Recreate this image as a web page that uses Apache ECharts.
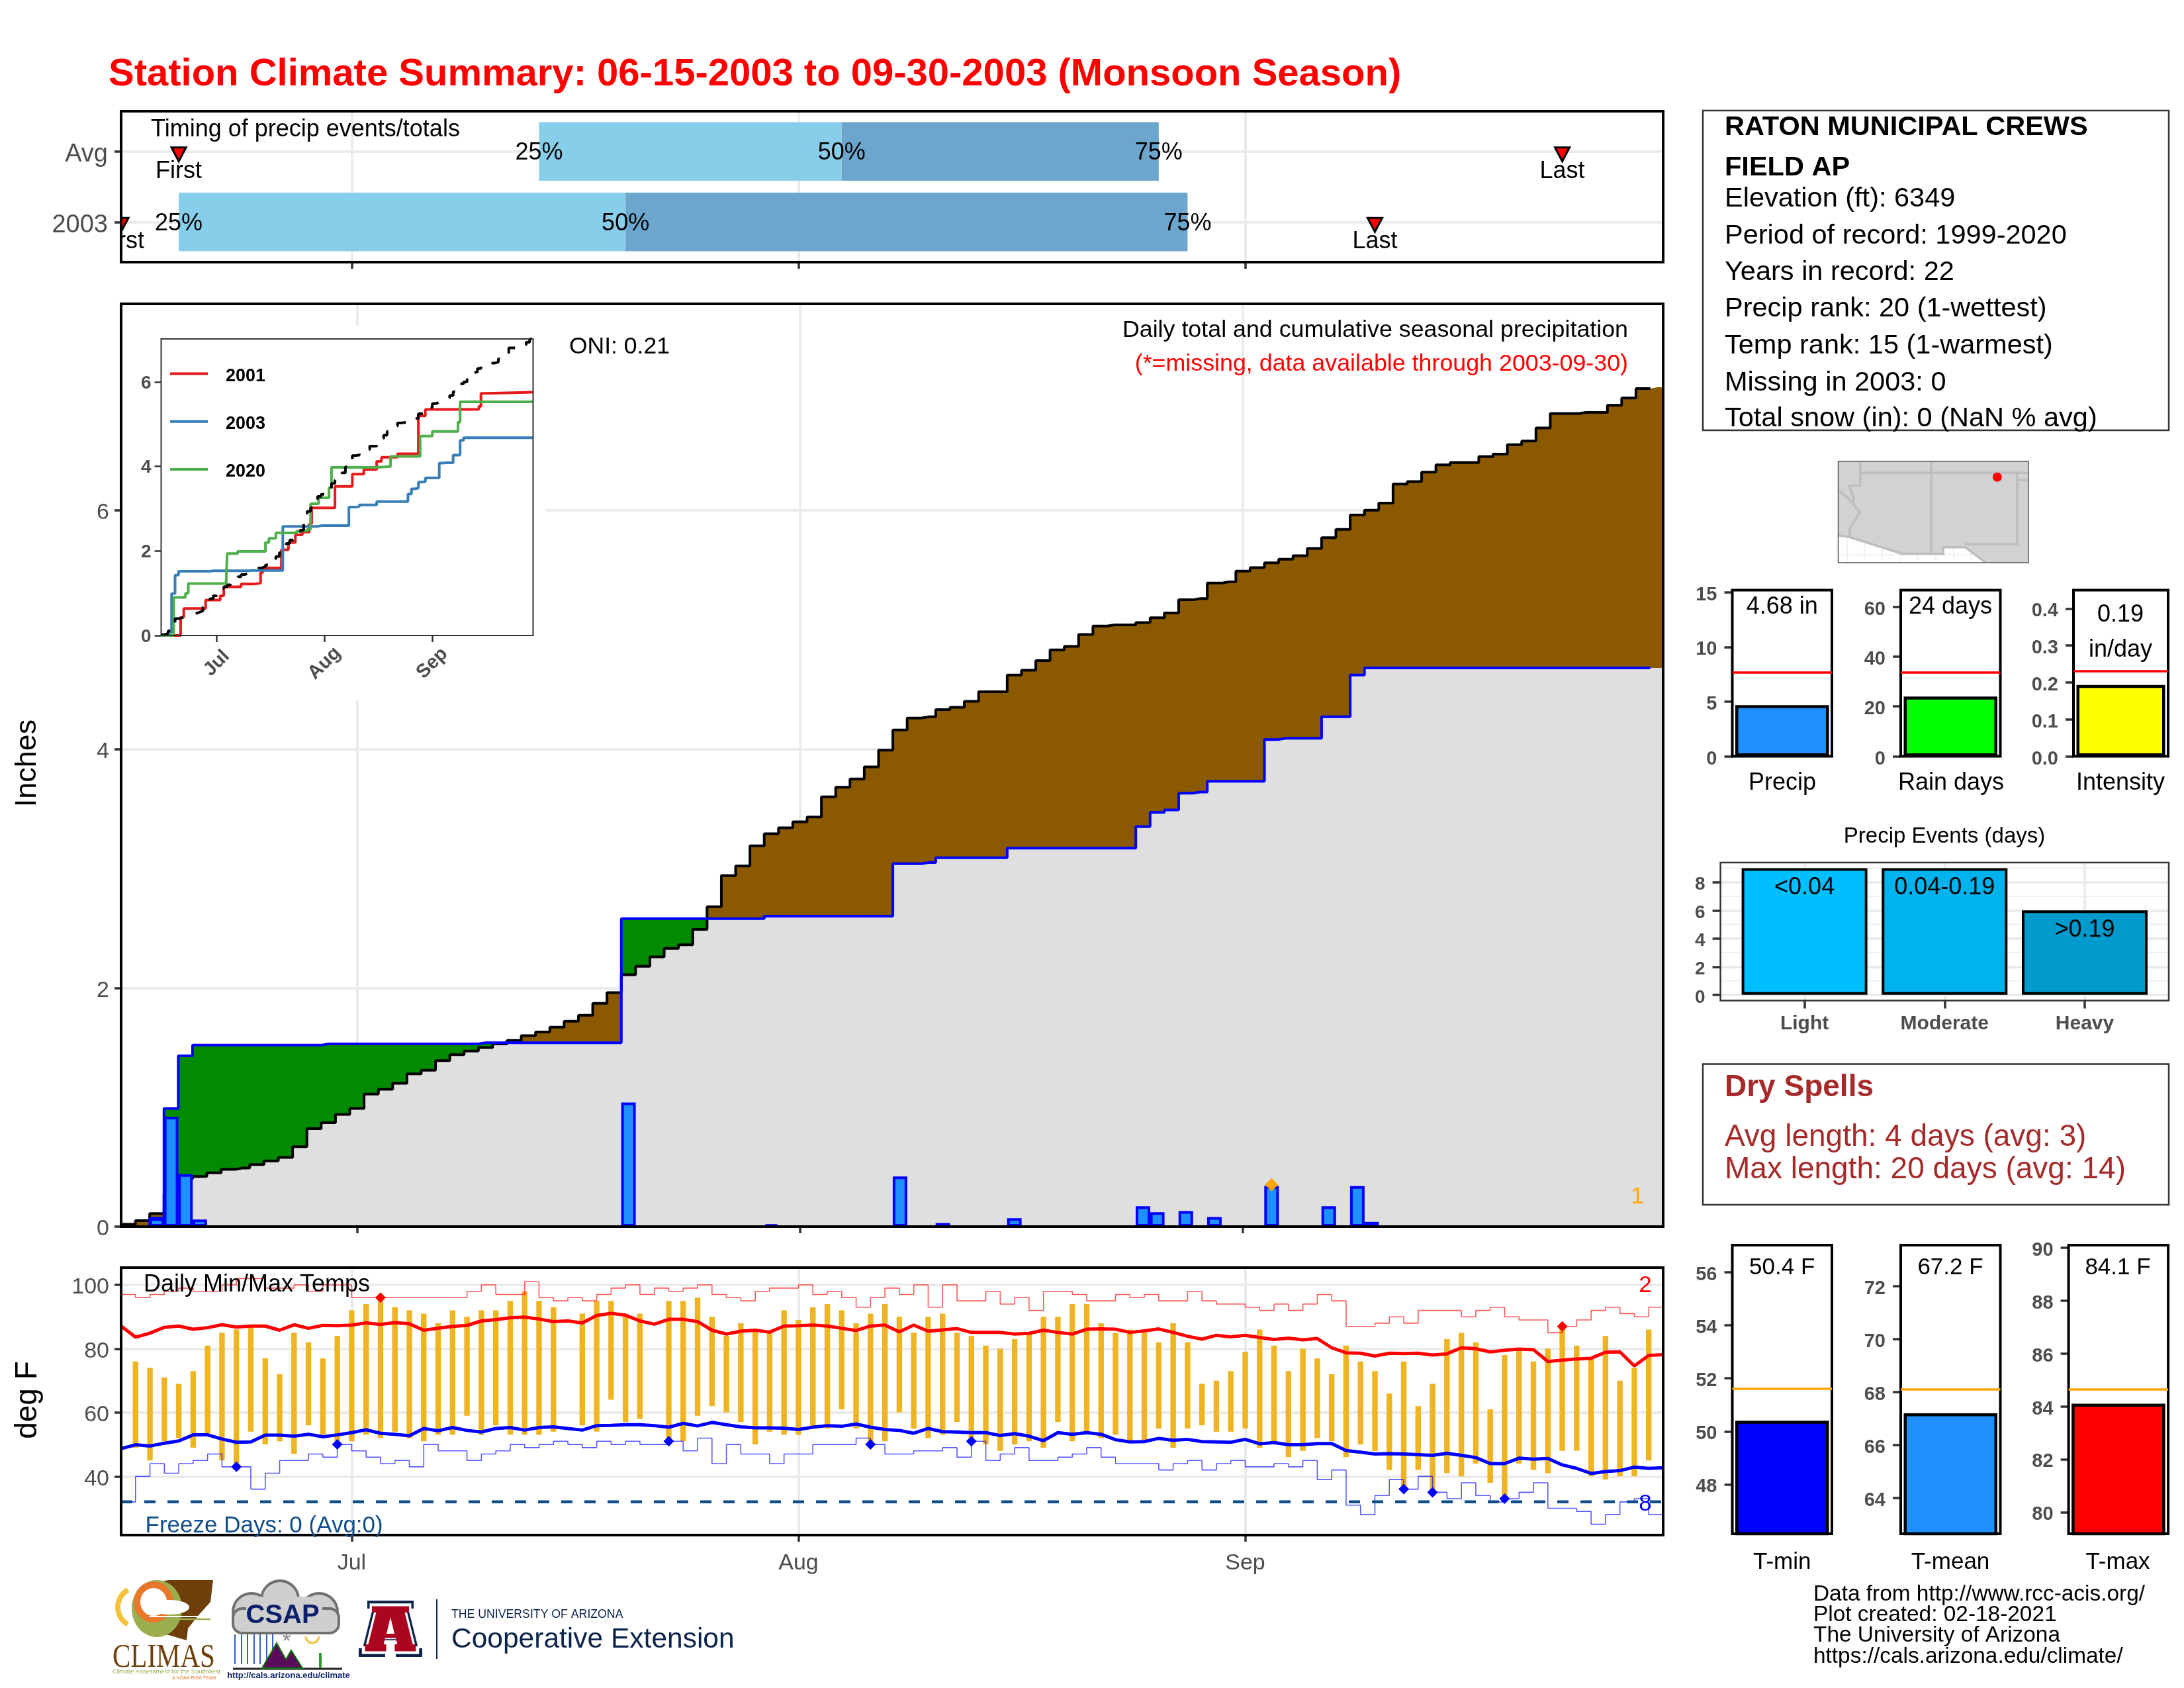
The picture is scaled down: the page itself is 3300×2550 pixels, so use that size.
<!DOCTYPE html>
<html>
<head>
<meta charset="utf-8">
<title>Station Climate Summary</title>
<script src="https://cdn.jsdelivr.net/npm/echarts@6/dist/echarts.min.js"></script>
<style>
  html, body { margin: 0; padding: 0; background: #fff; }
  #chart { width: 3300px; height: 2550px; }
</style>
</head>
<body>
<div id="chart"></div>
<script>
// day index: 0 = Jun 15 ... 107 = Sep 30
const monthTicks = [16, 47, 78]
const monthLabels = ['Jul', 'Aug', 'Sep']

// timing panel (row 2 = Avg, row 1 = 2003)
const timingRows = [2, 1]
const timingRowLabels = { 1: '2003', 2: 'Avg' }
const timingP25 = [29, 4]
const timingP50 = [50, 35]
const timingP75 = [72, 74]
const timingFirst = [4, 0]
const timingLast = [100, 87]

// cumulative precip (inches)
const avgCum = [
  0.02, 0.05, 0.11, 0.27, 0.40, 0.42, 0.45, 0.48, 0.49, 0.52,
  0.55, 0.58, 0.67, 0.82, 0.87, 0.94, 0.99, 1.11, 1.15, 1.20,
  1.28, 1.31, 1.39, 1.44, 1.47, 1.50, 1.53, 1.56, 1.60, 1.63,
  1.67, 1.72, 1.77, 1.87, 1.96, 2.11, 2.18, 2.26, 2.33, 2.36,
  2.49, 2.68, 2.94, 3.02, 3.19, 3.29, 3.34, 3.39, 3.43, 3.60,
  3.68, 3.75, 3.85, 3.99, 4.16, 4.26, 4.27, 4.33, 4.35, 4.40,
  4.48, 4.48, 4.62, 4.66, 4.74, 4.83, 4.86, 4.96, 5.03, 5.04,
  5.04, 5.06, 5.10, 5.14, 5.25, 5.26, 5.39, 5.40, 5.49, 5.52,
  5.56, 5.59, 5.62, 5.68, 5.77, 5.84, 5.96, 6.00, 6.06, 6.22,
  6.24, 6.32, 6.38, 6.40, 6.40, 6.45, 6.47, 6.55, 6.58, 6.69,
  6.81, 6.81, 6.82, 6.82, 6.88, 6.94, 7.02, 7.03
]
const yearCum = [
  0, 0, 0.07, 0.99, 1.43, 1.52, 1.52, 1.52, 1.52, 1.52,
  1.52, 1.52, 1.52, 1.52, 1.53, 1.53, 1.53, 1.53, 1.53, 1.53,
  1.53, 1.53, 1.53, 1.53, 1.53, 1.54, 1.54, 1.54, 1.54, 1.54,
  1.54, 1.54, 1.54, 1.54, 1.54, 2.58, 2.58, 2.58, 2.58, 2.58,
  2.58, 2.58, 2.58, 2.58, 2.58, 2.60, 2.60, 2.60, 2.60, 2.60,
  2.60, 2.60, 2.60, 2.60, 3.04, 3.04, 3.05, 3.09, 3.09, 3.09,
  3.09, 3.09, 3.17, 3.17, 3.17, 3.17, 3.17, 3.17, 3.17, 3.17,
  3.17, 3.35, 3.47, 3.49, 3.63, 3.64, 3.73, 3.73, 3.73, 3.73,
  4.08, 4.09, 4.09, 4.09, 4.27, 4.27, 4.62, 4.68, 4.68, 4.68,
  4.68, 4.68, 4.68, 4.68, 4.68, 4.68, 4.68, 4.68, 4.68, 4.68,
  4.68, 4.68, 4.68, 4.68, 4.68, 4.68, 4.68, 4.68
]
const rainDays = [2, 3, 4, 5, 35, 45, 54, 57, 62, 71, 72, 74, 76, 80, 84, 86, 87]
const rainTotals = [0.07, 0.92, 0.44, 0.06, 1.04, 0.02, 0.42, 0.03, 0.07, 0.17, 0.12, 0.13, 0.08, 0.34, 0.17, 0.34, 0.04]
const rainRecordDays = [80]
const rainRecordVals = [0.35]

// inset comparison years, change points only
const days2001 = [0, 5.6, 6.5, 12.8, 17, 18, 23, 27, 28.6, 29.2, 34.6, 36.6, 38.6, 40.6, 42.6, 43.3, 50, 55, 58.3, 62, 63.4, 68, 74, 76, 91.4, 92, 93.5, 107]
const vals2001 = [0, 0.43, 0.64, 0.84, 0.94, 1.15, 1.22, 1.24, 1.49, 1.6, 2.03, 2.2, 2.38, 2.45, 2.64, 3.02, 3.53, 3.82, 3.93, 4.12, 4.22, 4.3, 5.2, 5.35, 5.42, 5.73, 5.76, 5.77]
const days2020 = [0, 3.6, 7, 7.8, 18.7, 19, 22, 30, 31, 33, 39, 42, 43, 45.3, 48.3, 49, 62, 66, 74.5, 78, 85.4, 86, 107]
const vals2020 = [0, 0.9, 1.0, 1.23, 1.3, 1.94, 1.99, 2.2, 2.3, 2.43, 2.47, 2.51, 3.12, 3.26, 3.5, 3.98, 4.0, 4.24, 4.72, 4.83, 5.05, 5.53, 5.53]

// daily temps (deg F), null = missing
const tmaxDaily = [
  null, 76, 74, 71, 69, 73, 81, 85, 86, 87,
  77, 72, 85, 82, 77, 84, 92, 94, 96, 93,
  92, 91, 88, 92, 90, 92, 92, 95, 98, 95,
  93, null, 91, 95, 95, 90, 91, null, 95, 95,
  96, 90, 84, 88, 86, 85, 92, 89, 93, 94,
  92, 88, 91, 94, 90, 85, 90, 91, 85, 84,
  81, 80, 83, 85, 90, 90, 94, 94, 88, 85,
  86, 85, 82, 88, 82, 69, 70, 73, 79, 86,
  81, 73, 80, 77, 72, 81, 76, 73, 66, 76,
  62, 69, 83, 85, 82, 61, 78, 80, 76, 80,
  87, 81, 77, 84, 70, 74, 86, null
]
const tminDaily = [
  null, 49, 45, 51, 52, 49, 53, 45, 44, 54,
  50, 51, 47, 56, 53, 50, 51, 53, 52, 54,
  52, 51, 53, 53, 59, 53, 56, 53, 53, 53,
  54, null, 56, 54, 64, 57, 58, null, 51, 51,
  59, 62, 60, 57, 50, 54, 53, 53, 55, 55,
  61, 55, 51, 51, 60, 55, 52, 53, 57, 51,
  50, 48, 50, 51, 49, 57, 51, 54, 52, 53,
  51, 51, 55, 49, 55, 56, 54, 54, 55, 49,
  51, 46, 48, 52, 51, 46, 50, 48, 42, 36,
  42, 35, 41, 40, 44, 38, 33, 44, 42, 41,
  48, 48, 40, 39, 40, 40, 45, null
]
const tmaxMean = [
  87.1, 83.6, 84.9, 86.7, 87.1, 86.1, 86.6, 87.5, 86.8, 87.1,
  87.1, 85.8, 87.5, 86.4, 87.3, 87.2, 87.4, 88.1, 87.6, 88.2,
  87.8, 85.8, 86.4, 87.0, 87.3, 88.7, 89.1, 89.7, 89.9, 89.3,
  88.5, 88.7, 88.1, 90.4, 91.1, 90.5, 88.7, 87.7, 89.2, 89.2,
  88.5, 85.8, 84.6, 85.5, 85.8, 85.2, 87.1, 87.2, 87.4, 87.1,
  86.4, 85.7, 87.1, 87.4, 85.3, 87.4, 85.5, 85.9, 86.3, 85.1,
  85.1, 85.1, 84.6, 84.8, 85.8, 85.1, 84.6, 86.1, 86.2, 86.1,
  85.1, 85.6, 86.2, 85.1, 83.9, 83.0, 84.2, 83.7, 84.2, 83.5,
  82.9, 83.3, 82.8, 83.2, 80.3, 78.7, 78.6, 77.7, 78.6, 78.5,
  78.6, 78.0, 78.4, 80.3, 80.0, 79.0, 79.5, 79.9, 79.7, 76.0,
  76.4, 76.8, 77.0, 78.9, 79.0, 74.6, 77.9, 78.1
]
const tminMean = [
  48.7, 49.9, 49.5, 50.4, 51.1, 53, 53, 51.7, 50.7, 50.8,
  52.9, 52.9, 52.6, 53.2, 52.4, 53, 53.7, 54.6, 53.5, 53.2,
  52.7, 55, 54.3, 55.3, 54.4, 53.9, 55, 55.3, 54.5, 55.3,
  55.5, 55, 54.5, 55.9, 56, 56.2, 56.2, 55.9, 55.4, 56.6,
  55.8, 56.9, 56.2, 55.5, 55.2, 55.2, 55.1, 54.7, 55.4, 55.9,
  55.7, 56.4, 55.4, 54.7, 54.4, 53.5, 55, 54, 53.9, 53.7,
  53.7, 52.8, 53.4, 52.6, 51.2, 53.7, 53.2, 53.7, 53.2, 51.5,
  50.8, 50.9, 51.9, 51.3, 51.6, 50.9, 50.8, 50.7, 51.6, 50.2,
  50.6, 49.9, 49.9, 50.3, 50.3, 48.1, 47.6, 47, 47.1, 47,
  46.8, 46.6, 47.2, 46.6, 45.9, 44, 44, 45.7, 45.4, 45.6,
  43.6, 42.5, 40.9, 41.5, 41.8, 42.9, 42.5, 42.7
]
const recHigh = [
  97, 96, 97, 98, 99, 98, 98, 100, 102, 102,
  99, 99, 100, 98, 100, 100, 96, 96, 96, 96,
  96, 96, 96, 96, 98, 100, 97, 97, 101, 96,
  95, 96, 95, 97, 99, 100, 97, 99, 98, 99,
  100, 97, 96, 95, 98, 99, 99, 100, 97, 98,
  96, 93, 96, 99, 97, 100, 93, 100, 95, 95,
  98, 94, 96, 92, 98, 98, 97, 95, 95, 97,
  96, 97, 95, 95, 98, 95, 94, 94, 93, 92,
  94, 92, 94, 97, 95, 87, 87, 88, 90, 88,
  92, 92, 92, 90, 92, 93, 90, 89, 89, 85,
  87, 89, 92, 93, 91, 90, 93, 93
]
const recLow = [
  32, 40, 44, 41, 44, 45, 47, 43, 43, 36,
  41, 45, 45, 47, 46, 50, 48, 46, 44, 45,
  43, 50, 48, 48, 45, 47, 48, 50, 49, 50,
  51, 50, 49, 51, 50, 51, 50, 50, 51, 48,
  52, 44, 50, 47, 47, 44, 47, 47, 50, 50,
  50, 52, 50, 47, 47, 48, 48, 49, 46, 51,
  45, 47, 49, 45, 45, 46, 47, 49, 46, 44,
  44, 44, 42, 44, 45, 42, 44, 45, 43, 43,
  44, 43, 45, 39, 42, 31, 28, 34, 39, 36,
  40, 35, 33, 38, 34, 32, 33, 35, 38, 30,
  30, 29, 25, 28, 32, 33, 28, 28
]
const recordLowDays = [8, 15, 38, 52, 59, 89, 91, 96]
const recordLowVals = [43, 50, 51, 50, 51, 36, 35, 33]
const recordHighDays = [18, 100]
const recordHighVals = [96, 87]
const freezeLevel = 32

// summary panels
const precipSummary = { value: 4.68, avg: 7.65, max: 15.2, ticks: [0, 5, 10, 15] }
const rainSummary = { value: 24, avg: 33.6, max: 66.7, ticks: [0, 20, 40, 60] }
const intensitySummary = { value: 0.193, avg: 0.227, max: 0.45, ticks: [0, 0.1, 0.2, 0.3, 0.4] }
const eventNames = ['Light', 'Moderate', 'Heavy']
const eventCounts = [9, 9, 6]
const eventRanges = ['<0.04', '0.04-0.19', '>0.19']
const eventColors = ['#00BFFF', '#00B2EE', '#009ACD']
const eventMinorTicks = [1, 3, 5, 7, 9]
const tminSummary = { value: 50.4, avg: 51.6, min: 46.14, max: 57.02, ticks: [48, 50, 52, 54, 56] }
const tmeanSummary = { value: 67.2, avg: 68.1, min: 62.65, max: 73.55, ticks: [64, 66, 68, 70, 72] }
const tmaxSummary = { value: 84.1, avg: 84.65, min: 79.18, max: 90.1, ticks: [80, 82, 84, 86, 88, 90] }

// locator map, lon/lat
const landOutline = [[-115.6, 37.8], [-102.2, 37.8], [-102.2, 30.7], [-105.2, 30.7], [-106.65, 31.78], [-108.2, 31.78], [-108.2, 31.33], [-111.1, 31.33], [-114.82, 32.5], [-115.6, 32.63]]
const mapLines = [
  [[-114.05, 37.8], [-114.05, 36.1], [-114.82, 36.1], [-114.48, 35.2], [-114.6, 34.85], [-114.07, 34.25], [-114.77, 33.1], [-114.82, 32.5]],
  [[-115.6, 32.63], [-114.82, 32.5], [-111.1, 31.33], [-108.2, 31.33], [-108.2, 31.78], [-106.65, 31.78], [-105.2, 30.7]],
  [[-115.6, 35.8], [-114.65, 35.0]],
  [[-114.05, 37], [-102.2, 37]],
  [[-109.05, 37.8], [-109.05, 31.33]],
  [[-103, 37], [-103, 32], [-106.65, 32]],
  [[-103, 36.5], [-102.2, 36.5]]
]
const mapGridLon = [-115, -113.75, -112.5, -111.25, -110, -108.75, -107.5, -106.25]
const mapGridLat = [31.25, 32.5]
const stationLoc = [-104.4, 36.7]

const FONT = 'Liberation Sans'
const GRID_GRAY = '#EBEBEB'
const TICK_GRAY = '#333333'
const LABEL_GRAY = '#4D4D4D'

const grid = (left, top, width, height, extra) => Object.assign({
  left, top, width, height, show: true, z: 5,
  backgroundColor: 'transparent', borderColor: '#000', borderWidth: 4,
  containLabel: false, outerBoundsMode: 'none'
}, extra)

// axis with ticks at given values, optional gridlines
const axis = (type, gridIndex, min, max, ticks, o) => {
  o = o || {}
  const fontSize = o.fontSize || 34
  const fontWeight = o.weight || 'normal'
  const color = o.color || LABEL_GRAY
  // y labels sit a little under the tick in the original, rich padding nudges them down
  const fmt = o.formatter || (v => String(v))
  const formatter = type === 'y' ? (v => `{t|${fmt(v)}}`) : o.formatter
  return Object.assign({
    type: 'value', gridIndex, min, max, z: o.z || 0,
    axisLine: { show: false, onZero: false },
    axisTick: { show: true, length: o.tickLen || 10, customValues: ticks, lineStyle: { color: TICK_GRAY, width: o.tickWidth || 3.5 } },
    axisLabel: {
      show: o.labels !== false, customValues: ticks, color,
      fontFamily: FONT, fontSize, fontWeight,
      margin: o.margin || 18, formatter, hideOverlap: false, rotate: o.rotate || 0,
      align: o.align, verticalAlign: o.verticalAlign, showMinLabel: true, showMaxLabel: true,
      rich: { t: { color, fontFamily: FONT, fontSize, fontWeight, padding: [o.nudge || 8, 0, 0, 0] } }
    },
    splitLine: { show: !!o.split, lineStyle: { color: GRID_GRAY, width: o.splitWidth || 4 } },
    minorTick: { show: false }, minorSplitLine: { show: false }
  }, type === 'x' ? { position: 'bottom' } : { position: 'left' })
}

const monthFormatter = v => monthLabels[monthTicks.indexOf(Math.round(v))] || ''

const grids = [], xAxes = [], yAxes = [], series = []

// 0: timing panel
grids.push(grid(183, 168, 2330, 228))
xAxes.push(axis('x', 0, 0, 107, monthTicks, { labels: false, split: true }))
yAxes.push(axis('y', 0, 0.43, 2.57, timingRows, { split: true, fontSize: 38, margin: 20, nudge: 10, formatter: v => timingRowLabels[v] }))

// 1: daily/cumulative precip
grids.push(grid(183, 459, 2330, 1394))
xAxes.push(axis('x', 1, -0.5, 107.4, monthTicks, { labels: false, split: true }))
yAxes.push(axis('y', 1, 0, 7.729, [0, 2, 4, 6], { split: true }))

// 2: inset
grids.push(grid(243.5, 512, 562, 448, { borderColor: '#333', borderWidth: 2 }))
xAxes.push(axis('x', 2, 0, 107, monthTicks, { z: 3, formatter: monthFormatter, fontSize: 29, weight: 'bold', rotate: 45, margin: 42, align: 'center', verticalAlign: 'middle', tickWidth: 2.5 }))
yAxes.push(axis('y', 2, 0, 7.02, [0, 2, 4, 6], { z: 3, fontSize: 28, weight: 'bold', margin: 15, tickWidth: 2.5, nudge: 4 }))

// 3: temps
grids.push(grid(183, 1915, 2330, 404))
xAxes.push(axis('x', 3, 0, 107, monthTicks, { split: true, formatter: monthFormatter, margin: 26 }))
yAxes.push(axis('y', 3, 21.6, 105.4, [40, 60, 80, 100], { split: true }))

// summary bar panels
function summaryPanel(left, top, width, height, s, color, refColor) {
  const idx = grids.length
  grids.push(grid(left, top, width, height))
  xAxes.push({ type: 'category', gridIndex: idx, data: [''], axisLine: { show: false }, axisTick: { show: false }, axisLabel: { show: false }, splitLine: { show: false } })
  yAxes.push(axis('y', idx, s.min || 0, s.max, s.ticks, { weight: 'bold', fontSize: 29, margin: 23, tickLen: 12, formatter: v => s.ticks.some(t => t % 1) ? v.toFixed(1) : String(v) }))
  series.push({
    type: 'bar', xAxisIndex: idx, yAxisIndex: idx, data: [s.value], barWidth: width - 9, z: 2,
    itemStyle: { color, borderColor: '#000', borderWidth: 4.5 },
    markLine: {
      silent: true, symbol: 'none', label: { show: false }, animation: false,
      lineStyle: { color: refColor, type: 'solid', width: 3.5 }, data: [{ yAxis: s.avg }]
    }
  })
}
summaryPanel(2617.5, 891.5, 150.5, 251, precipSummary, '#1E90FF', '#FF0000')
summaryPanel(2872, 891.5, 150.5, 251, rainSummary, '#00FF00', '#FF0000')
summaryPanel(3133, 891.5, 143, 251, intensitySummary, '#FFFF00', '#FF0000')
summaryPanel(2617.5, 1881, 150.5, 436, tminSummary, '#0000FF', '#FFA500')
summaryPanel(2872, 1881, 150.5, 436, tmeanSummary, '#1E90FF', '#FFA500')
summaryPanel(3125.6, 1881, 150.5, 436, tmaxSummary, '#FF0000', '#FFA500')

// precip events panel
const evIdx = grids.length
grids.push(grid(2599.6, 1303, 677.4, 208.5, { borderColor: '#333', borderWidth: 2.5 }))
xAxes.push(axis('x', evIdx, 0.4, 3.6, [1, 2, 3], { split: true, fontSize: 30, weight: 'bold', margin: 20, tickLen: 12, formatter: v => eventNames[v - 1] }))
yAxes.push(axis('y', evIdx, -0.41, 9.4, [0, 2, 4, 6, 8], { split: true, fontSize: 28, weight: 'bold', margin: 23, tickLen: 12 }))
series.push({
  type: 'custom', xAxisIndex: evIdx, yAxisIndex: evIdx, z: 1, encode: { x: 0, y: 1 },
  data: eventMinorTicks.map(v => [0.4, v]),
  renderItem: (p, api) => {
    const a = api.coord([0.4, api.value(1)]), b = api.coord([3.6, api.value(1)])
    return { type: 'line', shape: { x1: a[0], y1: a[1], x2: b[0], y2: b[1] }, style: { stroke: '#F0F0F0', lineWidth: 2 } }
  }
})
series.push({
  type: 'bar', xAxisIndex: evIdx, yAxisIndex: evIdx, barWidth: 190, z: 2,
  data: eventCounts.map((c, i) => ({ value: [i + 1, c], itemStyle: { color: eventColors[i] }, label: { formatter: eventRanges[i] } })),
  itemStyle: { borderColor: '#000', borderWidth: 4 },
  label: { show: true, position: 'insideTop', distance: 12, color: '#000', fontFamily: FONT, fontSize: 36 }
})

// locator map panel
const mapIdx = grids.length
grids.push(grid(2777.5, 697, 287.5, 153, { borderColor: '#555', borderWidth: 1.5 }))
xAxes.push({ type: 'value', gridIndex: mapIdx, min: -115.6, max: -102.2, axisLine: { show: false }, axisLabel: { show: false, customValues: mapGridLon }, axisTick: { show: false, customValues: mapGridLon }, splitLine: { show: true, lineStyle: { color: '#EDEDED', width: 1.5 } } })
yAxes.push({ type: 'value', gridIndex: mapIdx, min: 30.7, max: 37.8, axisLine: { show: false }, axisLabel: { show: false, customValues: mapGridLat }, axisTick: { show: false, customValues: mapGridLat }, splitLine: { show: true, lineStyle: { color: '#EDEDED', width: 1.5 } } })
series.push({
  type: 'custom', xAxisIndex: mapIdx, yAxisIndex: mapIdx, clip: true, z: 2, encode: { x: 0, y: 1 },
  data: [landOutline[0]],
  renderItem: (p, api) => ({ type: 'polygon', shape: { points: landOutline.map(c => api.coord(c)) }, style: { fill: '#D2D2D2' } })
})
series.push({
  type: 'custom', xAxisIndex: mapIdx, yAxisIndex: mapIdx, clip: true, z: 3, encode: { x: 0, y: 1 },
  data: mapLines.map((l, i) => [l[0][0], l[0][1], i]),
  renderItem: (p, api) => ({ type: 'polyline', shape: { points: mapLines[api.value(2)].map(c => api.coord(c)) }, style: { fill: 'none', stroke: '#BEBEBE', lineWidth: 3.5 } })
})
series.push({ type: 'scatter', xAxisIndex: mapIdx, yAxisIndex: mapIdx, data: [stationLoc], symbolSize: 14, itemStyle: { color: '#FF0000', opacity: 1 }, z: 4 })

// timing bars, markers and labels
series.push({
  type: 'custom', xAxisIndex: 0, yAxisIndex: 0, clip: true, z: 2, encode: { x: [1, 2, 3, 4, 5], y: 0 },
  data: timingRows.map((r, i) => [r, timingP25[i], timingP50[i], timingP75[i], timingFirst[i], timingLast[i]]),
  renderItem: (p, api) => {
    const row = api.value(0)
    const [, top] = api.coord([0, row + 0.415])
    const [, bot] = api.coord([0, row - 0.415])
    const [, cy] = api.coord([0, row])
    const x = n => api.coord([api.value(n), row])[0]
    const kids = [
      { type: 'rect', shape: { x: x(1), y: top, width: x(2) - x(1), height: bot - top }, style: { fill: '#87CEEB' } },
      { type: 'rect', shape: { x: x(2), y: top, width: x(3) - x(2), height: bot - top }, style: { fill: '#6CA6CD' } }
    ]
    ;[[1, '25%'], [2, '50%'], [3, '75%']].forEach(([n, t]) => kids.push({
      type: 'text', z2: 5, style: { x: x(n), y: cy + 2.5, text: t, fill: '#000', fontFamily: FONT, fontSize: 36, align: 'center', verticalAlign: 'middle' }
    }))
    ;[[4, 'First'], [5, 'Last']].forEach(([n, t]) => {
      const mx = x(n)
      kids.push({ type: 'polygon', z2: 6, shape: { points: [[mx - 11, cy - 6], [mx + 11, cy - 6], [mx, cy + 15]] }, style: { fill: '#FF0000', stroke: '#000', lineWidth: 3 } })
      kids.push({ type: 'text', z2: 6, style: { x: mx, y: cy + 30, text: t, fill: '#000', fontFamily: FONT, fontSize: 36, align: 'center', verticalAlign: 'middle' } })
    })
    return { type: 'group', children: kids }
  }
})

// main panel: painted back to front so brown/green only show between the two curves
const lastFillDay = 107.6
const fillPts = vals => vals.map((v, d) => [d, v]).concat([[lastFillDay, vals[vals.length - 1]]])
const linePts = vals => [[-0.5, vals[0]]].concat(vals.slice(0, 107).map((v, d) => [d, v])).concat([[106.5, vals[106]]])
const fill = (data, color, z) => ({
  type: 'line', xAxisIndex: 1, yAxisIndex: 1, step: 'middle', data, symbol: 'none', z, silent: true,
  lineStyle: { width: 0 }, areaStyle: { color, opacity: 1, origin: 'start' }
})
series.push(fill(fillPts(avgCum), '#8B5A00', 2))
series.push(fill(fillPts(yearCum), '#008B00', 2.1))
series.push(fill(fillPts(avgCum.map((v, i) => Math.min(v, yearCum[i]))), '#DFDFDF', 2.2))
series.push({ type: 'line', xAxisIndex: 1, yAxisIndex: 1, step: 'middle', data: linePts(avgCum), symbol: 'none', z: 2.3, lineStyle: { color: '#000', width: 4 } })
series.push({
  type: 'bar', xAxisIndex: 1, yAxisIndex: 1, barWidth: 22, z: 2.4,
  data: rainDays.map((d, i) => [d, rainTotals[i]]),
  itemStyle: { color: '#1E90FF', borderColor: '#0000FF', borderWidth: 4 }
})
series.push({ type: 'line', xAxisIndex: 1, yAxisIndex: 1, step: 'middle', data: linePts(yearCum), symbol: 'none', z: 2.5, lineStyle: { color: '#0000FF', width: 4 } })
series.push({
  type: 'scatter', xAxisIndex: 1, yAxisIndex: 1, symbol: 'diamond', symbolSize: 20, z: 2.6,
  data: rainRecordDays.map((d, i) => [d, rainRecordVals[i]]), itemStyle: { color: '#FFA500', opacity: 1 }
})

// inset lines
const insetLine = (data, color, extra) => Object.assign({
  type: 'line', xAxisIndex: 2, yAxisIndex: 2, step: 'end', data, symbol: 'none', z: 3,
  lineStyle: { color, width: 4 }
}, extra)
const zip = (a, b) => a.map((v, i) => [v, b[i]])
series.push(insetLine(zip(days2001, vals2001), '#E41A1C'))
series.push(insetLine(yearCum.map((v, d) => [d, v]), '#377EB8'))
series.push(insetLine(zip(days2020, vals2020), '#4DAF4A'))
series.push(insetLine(avgCum.map((v, d) => [d, v]), '#000', { z: 3.1, lineStyle: { color: '#000', width: 4, type: [18, 20] } }))

// temps
series.push({
  type: 'custom', xAxisIndex: 3, yAxisIndex: 3, clip: true, z: 2, encode: { x: 0, y: [1, 2] },
  data: tmaxDaily.map((v, d) => [d, tminDaily[d], v]).filter(r => r[2] != null),
  renderItem: (p, api) => {
    const hi = api.coord([api.value(0), api.value(2)])
    const lo = api.coord([api.value(0), api.value(1)])
    return { type: 'rect', shape: { x: hi[0] - 4.2, y: hi[1], width: 8.4, height: lo[1] - hi[1] }, style: { fill: '#EEB422' } }
  }
})
const tempLine = (vals, color, width, step, z, opacity) => ({
  type: 'line', xAxisIndex: 3, yAxisIndex: 3, data: vals.map((v, d) => [d, v]), symbol: 'none', step, z,
  lineStyle: { color, width, opacity: opacity == null ? 1 : opacity }
})
series.push(tempLine(recHigh, '#FF0000', 1.6, 'end', 2.1, 0.65))
series.push(tempLine(recLow, '#0000FF', 1.6, 'end', 2.1, 0.65))
series.push({
  type: 'line', xAxisIndex: 3, yAxisIndex: 3, data: [[0, freezeLevel], [107, freezeLevel]], symbol: 'none', z: 2.2,
  lineStyle: { color: '#104E8B', width: 4.5, type: [17, 18] }
})
series.push(tempLine(tmaxMean, '#FF0000', 5, false, 2.3))
series.push(tempLine(tminMean, '#0000FF', 5, false, 2.3))
series.push({ type: 'scatter', xAxisIndex: 3, yAxisIndex: 3, symbol: 'diamond', symbolSize: 16, z: 2.4, data: zip(recordLowDays, recordLowVals), itemStyle: { color: '#0000FF', opacity: 1 } })
series.push({ type: 'scatter', xAxisIndex: 3, yAxisIndex: 3, symbol: 'diamond', symbolSize: 16, z: 2.4, data: zip(recordHighDays, recordHighVals), itemStyle: { color: '#FF0000', opacity: 1 } })

// text and boxes
const txt = (x, y, text, size, o) => {
  o = o || {}
  return {
    type: 'text', x, y: o.rotation ? y : y + 2.5, z: o.z || 10, rotation: o.rotation || 0, scaleX: o.scaleX || 1, silent: true,
    style: {
      text, fill: o.color || '#000', fontFamily: o.family || FONT, fontSize: size, fontWeight: o.weight || 'normal',
      align: o.align || 'left', verticalAlign: 'middle'
    }
  }
}
const box = (x, y, width, height) => ({ type: 'rect', z: 9, silent: true, shape: { x, y, width, height }, style: { fill: 'none', stroke: '#333', lineWidth: 2.5 } })
const poly = (points, fill, extra) => ({ type: 'polygon', z: 10, silent: true, shape: { points }, style: Object.assign({ fill }, extra) })
const seg = (x1, y1, x2, y2, stroke, lineWidth) => ({ type: 'line', z: 10, silent: true, shape: { x1, y1, x2, y2 }, style: { stroke, lineWidth } })
const ellipse = (cx, cy, rx, ry, style) => ({ type: 'ellipse', z: 10, silent: true, shape: { cx, cy, rx, ry }, style })
const arc = (cx, cy, r, startAngle, endAngle, stroke, lineWidth) => ({ type: 'arc', z: 10, silent: true, shape: { cx, cy, r, startAngle, endAngle }, style: { fill: 'none', stroke, lineWidth } })

// block A outline, scaled about its centre for the layered logo
const blockA = [[555, 2418], [625, 2418], [625, 2430], [617, 2430], [632, 2490], [638, 2490], [638, 2503], [598, 2503], [598, 2490], [603, 2490], [600, 2478], [580, 2478], [577, 2490], [582, 2490], [582, 2503], [542, 2503], [542, 2490], [548, 2490], [563, 2430], [555, 2430]]
const scaleA = k => blockA.map(([x, y]) => [590 + (x - 590) * k, 2460.5 + (y - 2460.5) * k])

const elements = [
  // mask the main gridlines behind the inset
  { type: 'rect', z: 1, silent: true, shape: { x: 186, y: 492, width: 639, height: 566 }, style: { fill: '#fff' } },
  txt(164, 110, 'Station Climate Summary: 06-15-2003 to 09-30-2003 (Monsoon Season)', 58, { color: '#FF0000', weight: 'bold' }),
  txt(228, 194, 'Timing of precip events/totals', 36),
  txt(860, 522, 'ONI: 0.21', 35.5),
  txt(2460, 497, 'Daily total and cumulative seasonal precipitation', 35.8, { align: 'right' }),
  txt(2460, 548, '(*=missing, data available through 2003-09-30)', 35.8, { align: 'right', color: '#FF0000' }),
  txt(2474, 1806, '1', 35, { color: '#FFA500', align: 'center' }),
  txt(42, 1153, 'Inches', 45, { rotation: Math.PI / 2, align: 'center' }),
  txt(42, 2115, 'deg F', 46, { rotation: Math.PI / 2, align: 'center' }),
  txt(217, 1939, 'Daily Min/Max Temps', 36),
  txt(219.5, 2303, 'Freeze Days: 0 (Avg:0)', 35, { color: '#104E8B' }),
  txt(2486, 1940, '2', 35, { color: '#FF0000', align: 'center' }),
  txt(2486, 2270, '8', 35, { color: '#0000FF', align: 'center' }),

  // inset legend
  seg(257, 564.6, 314, 564.6, '#E41A1C', 4), txt(341, 566, '2001', 27, { weight: 'bold' }),
  seg(257, 636.8, 314, 636.8, '#377EB8', 4), txt(341, 638, '2003', 27, { weight: 'bold' }),
  seg(257, 709, 314, 709, '#4DAF4A', 4), txt(341, 710, '2020', 27, { weight: 'bold' }),

  // station box
  box(2573, 167, 704, 483),
  txt(2606, 190.5, 'RATON MUNICIPAL CREWS', 41.5, { weight: 'bold' }),
  txt(2606, 251, 'FIELD AP', 41.5, { weight: 'bold' }),
  txt(2606, 298, 'Elevation (ft): 6349', 41.5),
  txt(2606, 354, 'Period of record: 1999-2020', 41.5),
  txt(2606, 409, 'Years in record: 22', 41.5),
  txt(2606, 464.5, 'Precip rank: 20 (1-wettest)', 41.5),
  txt(2606, 520, 'Temp rank: 15 (1-warmest)', 41.5),
  txt(2606, 576, 'Missing in 2003: 0', 41.5),
  txt(2606, 630.5, 'Total snow (in): 0 (NaN % avg)', 41.5),

  // summary labels
  txt(2692.7, 914.5, '4.68 in', 36, { align: 'center' }),
  txt(2947, 914.5, '24 days', 36, { align: 'center' }),
  txt(3204, 926.7, '0.19', 36, { align: 'center' }),
  txt(3204, 979.5, 'in/day', 36, { align: 'center' }),
  txt(2693, 1181, 'Precip', 36, { align: 'center' }),
  txt(2948, 1181, 'Rain days', 36, { align: 'center' }),
  txt(3204, 1181, 'Intensity', 36, { align: 'center' }),
  txt(2938, 1261, 'Precip Events (days)', 33, { align: 'center' }),

  // dry spells
  box(2573, 1607.6, 704, 212.4),
  txt(2606, 1641, 'Dry Spells', 46, { weight: 'bold', color: '#A52A2A' }),
  txt(2606, 1716, 'Avg length: 4 days (avg: 3)', 46, { color: '#A52A2A' }),
  txt(2606, 1765, 'Max length: 20 days (avg: 14)', 46, { color: '#A52A2A' }),

  // temp summary labels
  txt(2692.7, 1912.5, '50.4 F', 35, { align: 'center' }),
  txt(2947, 1912.5, '67.2 F', 35, { align: 'center' }),
  txt(3200, 1912.5, '84.1 F', 35, { align: 'center' }),
  txt(2692.7, 2358, 'T-min', 35, { align: 'center' }),
  txt(2947, 2358, 'T-mean', 35, { align: 'center' }),
  txt(3200, 2358, 'T-max', 35, { align: 'center' }),

  // footer
  txt(2740, 2406, 'Data from http://www.rcc-acis.org/', 33.4),
  txt(2740, 2437, 'Plot created: 02-18-2021', 33.4),
  txt(2740, 2468, 'The University of Arizona', 33.4),
  txt(2740, 2500, 'https://cals.arizona.edu/climate/', 33.4),

  // CLIMAS logo
  poly([[255, 2387], [322, 2387], [318, 2420], [300, 2440], [284, 2460], [282, 2478], [255, 2470], [225, 2465], [205, 2440], [205, 2410], [225, 2392]], '#6E3F0A'),
  ellipse(237, 2430, 38, 43, { fill: '#9BAE4F' }),
  ellipse(232, 2420, 25, 26, { fill: '#fff', stroke: '#E8772A', lineWidth: 10 }),
  ellipse(256, 2428, 30, 11, { fill: '#fff' }),
  arc(208, 2428, 30, 2.1, 4.2, '#F5C33B', 8),
  seg(225, 2442, 318, 2442, '#fff', 2),
  seg(262, 2446, 318, 2446, '#9BAE4F', 2.5),
  txt(170, 2502, 'CLIMAS', 50, { family: 'Liberation Serif', color: '#6E3F0A', scaleX: 0.82 }),
  txt(170, 2523, 'Climate Assessment for the Southwest', 9.5, { color: '#9BAE4F' }),
  txt(326, 2533, 'A NOAA RISA TEAM', 7, { color: '#E8772A', align: 'right' }),

  // CSAP logo
  { type: 'circle', z: 10, silent: true, shape: { cx: 423, cy: 2416, r: 28 }, style: { fill: '#CFCFCF', stroke: '#707070', lineWidth: 4 } },
  { type: 'circle', z: 10, silent: true, shape: { cx: 380, cy: 2435, r: 28 }, style: { fill: '#CFCFCF', stroke: '#707070', lineWidth: 4 } },
  { type: 'circle', z: 10, silent: true, shape: { cx: 482, cy: 2435, r: 28 }, style: { fill: '#CFCFCF', stroke: '#707070', lineWidth: 4 } },
  { type: 'rect', z: 10, silent: true, shape: { x: 352, y: 2430, width: 160, height: 37, r: 14 }, style: { fill: '#CFCFCF', stroke: '#707070', lineWidth: 4 } },
  { type: 'rect', z: 10, silent: true, shape: { x: 372, y: 2412, width: 115, height: 30 }, style: { fill: '#CFCFCF' } },
  txt(427, 2438, 'CSAP', 40, { weight: 'bold', color: '#0C1F6B', align: 'center' }),
  ...[355, 365, 374, 384, 393, 403, 412].map(x => seg(x, 2469, x, 2514, '#2D5FD0', 2)),
  seg(352, 2521, 517, 2521, '#222', 3),
  poly([[396, 2520], [418, 2482], [432, 2507], [440, 2493], [457, 2520]], '#5A0A5A', { stroke: '#0A7A0A', lineWidth: 2 }),
  txt(433, 2478, '*', 34, { color: '#888', align: 'center' }),
  arc(472, 2472, 10, 0, Math.PI, '#F5C33B', 3),
  seg(484, 2520, 484, 2497, '#2E9A2E', 4),
  txt(436, 2529, 'http://cals.arizona.edu/climate', 13, { weight: 'bold', color: '#0C1F6B', align: 'center' }),

  // Arizona block A and wordmark
  poly(blockA, '#0C234B'),
  poly(scaleA(0.9), '#fff'),
  poly(scaleA(0.8), '#AB0520'),
  poly([[590, 2443], [596, 2468], [584, 2468]], '#fff'),
  seg(660, 2416, 660, 2506, '#0C234B', 2),
  txt(682, 2437, 'THE UNIVERSITY OF ARIZONA', 17.7, { color: '#0C234B' }),
  txt(682, 2475, 'Cooperative Extension', 42.5, { color: '#0C234B' })
]

const chart = echarts.init(document.getElementById('chart'), null, { renderer: 'canvas', width: 3300, height: 2550 })
chart.setOption({
  animation: false,
  backgroundColor: '#fff',
  textStyle: { fontFamily: FONT },
  grid: grids,
  xAxis: xAxes,
  yAxis: yAxes,
  series,
  graphic: { elements }
})
</script>
</body>
</html>
